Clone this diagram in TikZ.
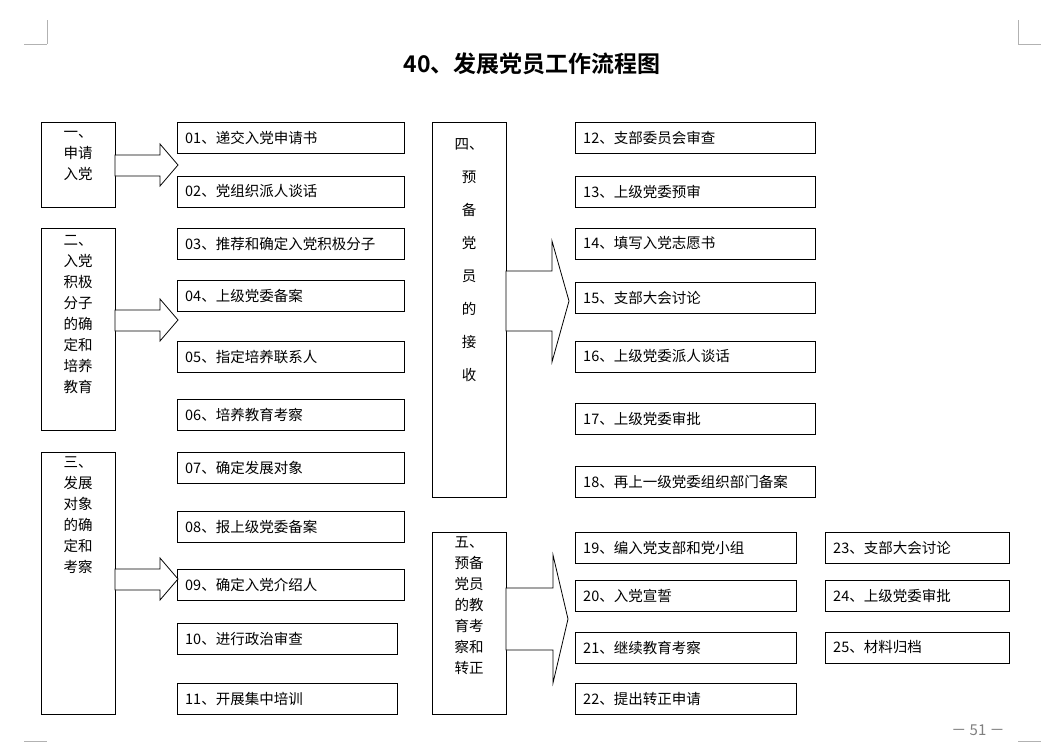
\documentclass[tikz,border=0pt]{standalone}
\usepackage{fontspec}
\setmainfont{Noto Sans CJK SC}
\newfontfamily\cjkb{Noto Sans CJK SC Bold}
\begin{document}
\begin{tikzpicture}[x=1pt,y=-1pt,
  bx/.style={draw,line width=0.8pt},
  lbl/.style={anchor=west,font=\fontsize{14.5}{16}\selectfont,inner sep=0pt},
  vt/.style={anchor=north,font=\fontsize{14.5}{21}\selectfont,align=center,inner sep=0pt},
  arr/.style={draw,line width=0.8pt,fill=white},
  crop/.style={draw=gray!60,line width=0.6pt}]
\useasboundingbox (0,0) rectangle (1049,747);
\fill[white] (0,0) rectangle (1049,747);
% crop marks
\draw[crop] (24,44)--(47,44) (47,20)--(47,44);
\draw[crop] (1018,20)--(1018,44)--(1041,44);
\draw[crop] (24,741)--(47,741);
\draw[crop] (1018,741)--(1041,741);
\node[text=gray,font=\fontsize{15}{17}\selectfont] (pg) at (978,730) {－ 51 －};
\node[font=\cjkb\fontsize{23}{27}\selectfont] (title) at (532,64) {40、发展党员工作流程图};
% left stage boxes
\draw[bx] (41,122) rectangle (115,207);
\node[vt] (s1) at (78,131) {一、\\申请\\入党};
\draw[bx] (41,228) rectangle (115,430);
\node[vt] (s2) at (78,235) {二、\\入党\\积极\\分子\\的确\\定和\\培养\\教育};
\draw[bx] (41,452) rectangle (115,714);
\node[vt] (s3) at (78,457) {三、\\发展\\对象\\的确\\定和\\考察};
\draw[bx] (432,122) rectangle (506,497);
\node[vt,font=\fontsize{14.5}{33}\selectfont] (s4) at (469,138) {四、\\预\\备\\党\\员\\的\\接\\收};
\draw[bx] (432,532) rectangle (506,714);
\node[vt] (s5) at (469,537) {五、\\预备\\党员\\的教\\育考\\察和\\转正};
% step boxes
\foreach \n/\t/\yt/\xr/\xl in {
01/递交入党申请书/122/404/177, 02/党组织派人谈话/176/404/177,
03/推荐和确定入党积极分子/228/404/177, 04/上级党委备案/280/404/177,
05/指定培养联系人/341/404/177, 06/培养教育考察/399/404/177,
07/确定发展对象/452/404/177, 08/报上级党委备案/511/404/177,
09/确定入党介绍人/569/404/177, 10/进行政治审查/623/397/177,
11/开展集中培训/683/397/177,
12/支部委员会审查/122/815/575, 13/上级党委预审/176/815/575,
14/填写入党志愿书/228/815/575, 15/支部大会讨论/282/815/575,
16/上级党委派人谈话/341/815/575, 17/上级党委审批/403/815/575,
18/再上一级党委组织部门备案/466/815/575,
19/编入党支部和党小组/532/796/575, 20/入党宣誓/580/796/575,
21/继续教育考察/632/796/575, 22/提出转正申请/683/796/575,
23/支部大会讨论/532/1009/825, 24/上级党委审批/580/1009/825,
25/材料归档/632/1009/825}{
  \draw[bx] (\xl,\yt) rectangle (\xr,\yt+31);
  \node[lbl] (b\n) at (\xl+8,\yt+15.5) {\n、\t};
}
% block arrows
\draw[arr] (115,155)--(160,155)--(160,144)--(178,165)--(160,186)--(160,176)--(115,176)--cycle;
\draw[arr] (115,310)--(160,310)--(160,299)--(178,320)--(160,341)--(160,331)--(115,331)--cycle;
\draw[arr] (115,569)--(160,569)--(160,558)--(178,579)--(160,600)--(160,590)--(115,590)--cycle;
\draw[arr] (506,271)--(552,271)--(552,241)--(569,301)--(552,362)--(552,331)--(506,331)--cycle;
\draw[arr] (506,588)--(553,588)--(553,555)--(568,619)--(553,683)--(553,650)--(506,650)--cycle;
\end{tikzpicture}
\end{document}
